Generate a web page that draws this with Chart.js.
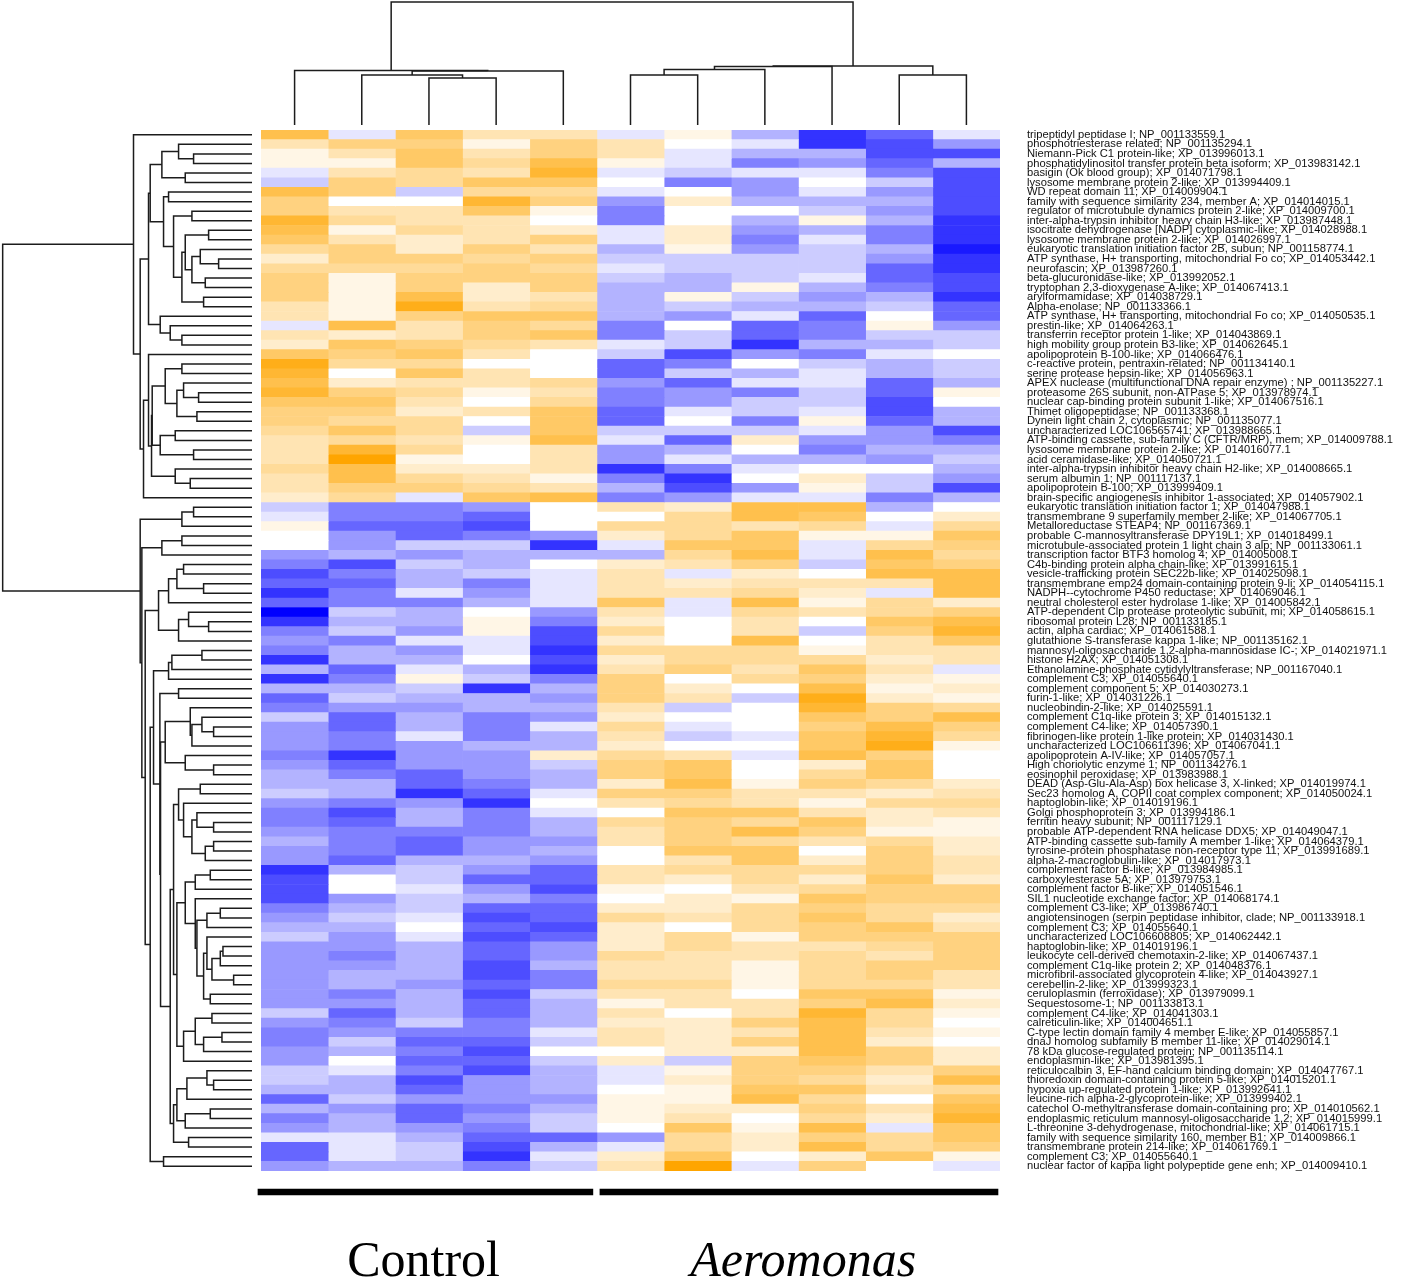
<!DOCTYPE html>
<html>
<head>
<meta charset="utf-8">
<title>Control vs Aeromonas heatmap</title>
<script src="https://cdn.jsdelivr.net/npm/chart.js@4"></script>
<style>
  html, body { margin: 0; padding: 0; background: #fff; }
  #page { position: relative; width: 1418px; height: 1279px; overflow: hidden; }
  canvas { position: absolute; }
  #heatmap { left: 0; top: 0; }
  #rowDendrogram { left: 0; top: 130px; }
  #colDendrogram { left: 261px; top: 0; }
  #groups { left: 251px; top: 1186px; }
</style>
</head>
<body>
<div id="page">
  <canvas id="heatmap" width="1418" height="1279"></canvas>
  <canvas id="rowDendrogram" width="252" height="1041"></canvas>
  <canvas id="colDendrogram" width="739" height="125"></canvas>
  <canvas id="groups" width="759" height="93"></canvas>
</div>
<script>
// ----------------------------------------------------------------------DATA
const geneLabels = [
  "tripeptidyl peptidase I; NP_001133559.1",
  "phosphotriesterase related; NP_001135294.1",
  "Niemann-Pick C1 protein-like; XP_013996013.1",
  "phosphatidylinositol transfer protein beta isoform; XP_013983142.1",
  "basigin (Ok blood group); XP_014071798.1",
  "lysosome membrane protein 2-like; XP_013994409.1",
  "WD repeat domain 11; XP_014009904.1",
  "family with sequence similarity 234, member A; XP_014014015.1",
  "regulator of microtubule dynamics protein 2-like; XP_014009700.1",
  "inter-alpha-trypsin inhibitor heavy chain H3-like; XP_013987448.1",
  "isocitrate dehydrogenase [NADP] cytoplasmic-like; XP_014028988.1",
  "lysosome membrane protein 2-like; XP_014026997.1",
  "eukaryotic translation initiation factor 2B, subun; NP_001158774.1",
  "ATP synthase, H+ transporting, mitochondrial Fo co; XP_014053442.1",
  "neurofascin; XP_013987260.1",
  "beta-glucuronidase-like; XP_013992052.1",
  "tryptophan 2,3-dioxygenase A-like; XP_014067413.1",
  "arylformamidase; XP_014038729.1",
  "Alpha-enolase; NP_001133366.1",
  "ATP synthase, H+ transporting, mitochondrial Fo co; XP_014050535.1",
  "prestin-like; XP_014064263.1",
  "transferrin receptor protein 1-like; XP_014043869.1",
  "high mobility group protein B3-like; XP_014062645.1",
  "apolipoprotein B-100-like; XP_014066476.1",
  "c-reactive protein, pentraxin-related; NP_001134140.1",
  "serine protease hepsin-like; XP_014056963.1",
  "APEX nuclease (multifunctional DNA repair enzyme) ; NP_001135227.1",
  "proteasome 26S subunit, non-ATPase 5; XP_013978974.1",
  "nuclear cap-binding protein subunit 1-like; XP_014067516.1",
  "Thimet oligopeptidase; NP_001133368.1",
  "Dynein light chain 2, cytoplasmic; NP_001135077.1",
  "uncharacterized LOC106565741; XP_013988665.1",
  "ATP-binding cassette, sub-family C (CFTR/MRP), mem; XP_014009788.1",
  "lysosome membrane protein 2-like; XP_014016077.1",
  "acid ceramidase-like; XP_014050721.1",
  "inter-alpha-trypsin inhibitor heavy chain H2-like; XP_014008665.1",
  "serum albumin 1; NP_001117137.1",
  "apolipoprotein B-100; XP_013999409.1",
  "brain-specific angiogenesis inhibitor 1-associated; XP_014057902.1",
  "eukaryotic translation initiation factor 1; XP_014047988.1",
  "transmembrane 9 superfamily member 2-like; XP_014067705.1",
  "Metalloreductase STEAP4; NP_001167369.1",
  "probable C-mannosyltransferase DPY19L1; XP_014018499.1",
  "microtubule-associated protein 1 light chain 3 alp; NP_001133061.1",
  "transcription factor BTF3 homolog 4; XP_014005008.1",
  "C4b-binding protein alpha chain-like; XP_013991615.1",
  "vesicle-trafficking protein SEC22b-like; XP_014025098.1",
  "transmembrane emp24 domain-containing protein 9-li; XP_014054115.1",
  "NADPH--cytochrome P450 reductase; XP_014069046.1",
  "neutral cholesterol ester hydrolase 1-like; XP_014005842.1",
  "ATP-dependent Clp protease proteolytic subunit, mi; XP_014058615.1",
  "ribosomal protein L28; NP_001133185.1",
  "actin, alpha cardiac; XP_014061588.1",
  "glutathione S-transferase kappa 1-like; NP_001135162.1",
  "mannosyl-oligosaccharide 1,2-alpha-mannosidase IC-; XP_014021971.1",
  "histone H2AX; XP_014051308.1",
  "Ethanolamine-phosphate cytidylyltransferase; NP_001167040.1",
  "complement C3; XP_014055640.1",
  "complement component 5; XP_014030273.1",
  "furin-1-like; XP_014031226.1",
  "nucleobindin-2-like; XP_014025591.1",
  "complement C1q-like protein 3; XP_014015132.1",
  "complement C4-like; XP_014057390.1",
  "fibrinogen-like protein 1-like protein; XP_014031430.1",
  "uncharacterized LOC106611396; XP_014067041.1",
  "apolipoprotein A-IV-like; XP_014057057.1",
  "High choriolytic enzyme 1; NP_001134276.1",
  "eosinophil peroxidase; XP_013983988.1",
  "DEAD (Asp-Glu-Ala-Asp) box helicase 3, X-linked; XP_014019974.1",
  "Sec23 homolog A, COPII coat complex component; XP_014050024.1",
  "haptoglobin-like; XP_014019196.1",
  "Golgi phosphoprotein 3; XP_013994186.1",
  "ferritin heavy subunit; NP_001117129.1",
  "probable ATP-dependent RNA helicase DDX5; XP_014049047.1",
  "ATP-binding cassette sub-family A member 1-like; XP_014064379.1",
  "tyrosine-protein phosphatase non-receptor type 11; XP_013991689.1",
  "alpha-2-macroglobulin-like; XP_014017973.1",
  "complement factor B-like; XP_013984985.1",
  "carboxylesterase 5A; XP_013979753.1",
  "complement factor B-like; XP_014051546.1",
  "SIL1 nucleotide exchange factor; XP_014068174.1",
  "complement C3-like; XP_013986740.1",
  "angiotensinogen (serpin peptidase inhibitor, clade; NP_001133918.1",
  "complement C3; XP_014055640.1",
  "uncharacterized LOC106608805; XP_014062442.1",
  "haptoglobin-like; XP_014019196.1",
  "leukocyte cell-derived chemotaxin-2-like; XP_014067437.1",
  "complement C1q-like protein 2; XP_014048376.1",
  "microfibril-associated glycoprotein 4-like; XP_014043927.1",
  "cerebellin-2-like; XP_013999323.1",
  "ceruloplasmin (ferroxidase); XP_013979099.1",
  "Sequestosome-1; NP_001133813.1",
  "complement C4-like; XP_014041303.1",
  "calreticulin-like; XP_014004651.1",
  "C-type lectin domain family 4 member E-like; XP_014055857.1",
  "dnaJ homolog subfamily B member 11-like; XP_014029014.1",
  "78 kDa glucose-regulated protein; NP_001135114.1",
  "endoplasmin-like; XP_013981395.1",
  "reticulocalbin 3, EF-hand calcium binding domain; XP_014047767.1",
  "thioredoxin domain-containing protein 5-like; XP_014015201.1",
  "hypoxia up-regulated protein 1-like; XP_013992641.1",
  "leucine-rich alpha-2-glycoprotein-like; XP_013999402.1",
  "catechol O-methyltransferase domain-containing pro; XP_014010562.1",
  "endoplasmic reticulum mannosyl-oligosaccharide 1,2; XP_014015999.1",
  "L-threonine 3-dehydrogenase, mitochondrial-like; XP_014061715.1",
  "family with sequence similarity 160, member B1; XP_014009866.1",
  "transmembrane protein 214-like; XP_014061769.1",
  "complement C3; XP_014055640.1",
  "nuclear factor of kappa light polypeptide gene enh; XP_014009410.1",
];

// one row per gene, five Control then six Aeromonas samples (-10 blue .. 10 orange)
const cellValues = [
  [7,-1,6,3,3,-1,1,-3,-8,-6,-1],
  [3,5,5,1,5,3,0,-1,-8,-7,-4],
  [1,3,6,3,5,3,-1,-3,-3,-7,-7],
  [1,1,6,4,7,1,-1,-5,-4,-6,-3],
  [-1,3,4,3,8,-1,-2,-1,-1,-5,-7],
  [-2,5,4,6,6,0,-5,-4,0,-2,-7],
  [7,5,-2,4,4,-1,0,-4,-1,-4,-7],
  [5,0,0,8,5,-4,2,-3,-3,-3,-7],
  [5,3,3,6,1,-5,0,0,-2,-4,-7],
  [8,4,3,3,0,-5,0,-3,1,-3,-8],
  [7,1,4,3,2,-1,2,-4,-3,-5,-8],
  [6,3,2,3,5,-1,2,-5,-1,-5,-8],
  [4,5,2,5,3,-3,1,-4,-2,-3,-9],
  [2,5,5,4,5,-2,-2,-2,-2,-4,-8],
  [4,4,4,5,4,-1,-2,-2,-2,-6,-8],
  [5,1,5,5,5,-2,-3,-2,-1,-6,-7],
  [5,1,5,2,5,-3,-3,1,-3,-5,-7],
  [5,1,7,2,3,-3,1,-2,-4,-3,-8],
  [3,1,9,3,4,-3,-2,-3,-3,-2,-6],
  [3,1,5,6,6,-3,-4,-1,-6,0,-6],
  [-1,7,3,5,4,-5,0,-6,-5,1,-4],
  [3,2,3,5,6,-5,-2,-6,-5,-2,-2],
  [2,6,5,4,3,-1,-2,-8,-3,-3,-2],
  [6,5,6,3,0,-2,-7,-4,-5,-1,0],
  [9,4,4,0,0,-6,-5,0,-2,-3,-2],
  [8,0,6,3,0,-6,-2,-3,-1,-3,-2],
  [7,2,3,3,4,-4,-6,-1,-1,-6,-3],
  [8,5,4,1,3,-5,-4,-5,-2,-6,1],
  [6,6,3,0,4,-5,-4,-2,-2,-7,0],
  [5,5,2,3,6,-6,-1,-2,-1,-7,-3],
  [5,4,4,0,6,-6,0,-5,1,-6,-3],
  [4,6,4,-2,6,-2,-2,-2,-1,-4,-7],
  [3,4,3,1,7,-1,-6,2,-4,-4,-5],
  [3,8,4,0,3,-4,-3,0,-5,-3,-3],
  [3,10,1,0,3,-4,-1,-3,-3,-4,-2],
  [4,7,2,2,3,-8,-5,-1,0,0,-3],
  [3,7,4,3,1,-5,-8,0,2,-2,-4],
  [3,5,5,4,3,-3,-7,-4,1,-2,-7],
  [2,4,-1,6,7,-5,-4,-1,-1,-5,-3],
  [-2,-5,-5,-4,0,3,2,7,7,-3,0],
  [-1,-5,-5,-6,0,0,4,7,6,0,2],
  [1,-6,-6,-7,0,4,4,3,4,-1,4],
  [0,-4,-6,-5,-4,2,4,6,1,1,6],
  [0,-4,-2,-2,-8,-1,6,6,-1,4,5],
  [-4,-3,-4,-3,-3,-3,4,7,-1,7,4],
  [-5,-7,-2,-3,0,2,3,5,-2,6,5],
  [-7,-5,-3,-2,-1,3,-1,2,0,7,7],
  [-6,-6,-3,-5,-1,3,2,3,3,3,7],
  [-8,-5,-1,-4,-1,3,3,4,2,-1,7],
  [-6,-5,-5,-3,-1,6,-1,7,1,4,2],
  [-10,-2,-3,0,-4,3,-1,4,3,4,5],
  [-8,-3,-3,1,-5,2,0,3,0,6,7],
  [-5,-2,-4,1,-7,4,0,3,-2,5,8],
  [-4,-5,-1,-1,-7,2,0,7,0,3,6],
  [-5,-3,-4,-1,-8,4,4,4,1,3,3],
  [-8,-3,-3,0,-7,2,4,4,4,2,3],
  [-3,-6,-1,-3,-8,3,5,3,6,3,-1],
  [-8,-5,1,-2,-5,5,0,4,5,2,1],
  [-3,-3,-2,-8,-3,5,2,0,7,1,2],
  [-6,-2,-3,-3,-4,5,3,-2,9,2,1],
  [-5,-4,-4,-3,-3,3,-2,0,8,5,4],
  [-2,-6,-3,-5,-4,2,0,0,6,5,7],
  [-4,-6,-3,-5,-1,4,-1,0,5,7,5],
  [-4,-5,-1,-5,-3,3,-2,-1,6,8,4],
  [-4,-5,-4,-3,-3,2,0,0,6,9,1],
  [-5,-8,-4,-4,2,4,3,-1,7,5,0],
  [-4,-6,-4,-4,-2,5,6,0,2,6,0],
  [-3,-5,-6,-4,-3,5,6,0,4,6,0],
  [-3,-3,-6,-5,-3,2,7,1,5,4,2],
  [-2,-3,-8,-6,-1,5,5,3,3,2,3],
  [-4,-5,-4,-8,0,3,4,3,1,4,4],
  [-5,-7,-3,-5,-1,0,6,6,3,2,3],
  [-5,-6,-3,-5,-3,4,5,4,6,2,1],
  [-4,-5,-5,-5,-3,3,5,7,5,1,1],
  [-3,-5,-6,-4,-4,3,5,4,3,4,2],
  [-4,-5,-6,-4,-3,0,6,6,0,5,2],
  [-4,-6,-3,-3,-4,0,3,6,2,5,3],
  [-8,-3,-2,-4,-6,3,4,4,4,5,3],
  [-7,0,-2,-6,-6,3,2,4,2,6,2],
  [-7,0,-1,-4,-7,1,0,3,4,5,5],
  [-7,-4,-2,-3,-5,0,2,1,6,5,5],
  [-5,-3,-2,-6,-6,2,2,4,5,4,4],
  [-4,-2,-1,-7,-6,4,3,4,6,4,2],
  [-3,-3,0,-6,-7,2,0,4,5,6,3],
  [-2,-4,-1,-7,-6,2,4,1,5,5,5],
  [-4,-4,-3,-6,-4,2,4,3,3,4,5],
  [-4,-5,-3,-6,-4,4,3,3,4,3,5],
  [-4,-4,-3,-7,-3,3,3,1,4,5,5],
  [-4,-3,-3,-7,-5,3,3,1,4,5,3],
  [-4,-3,-4,-6,-5,4,4,1,4,4,3],
  [-4,-5,-3,-7,-2,3,3,0,6,6,1],
  [-4,-4,-3,-6,-3,1,3,3,5,7,2],
  [-2,-6,-3,-6,-3,3,0,3,8,4,1],
  [-4,-5,-2,-5,-3,2,2,5,7,4,0],
  [-5,-4,-5,-5,-1,3,2,3,7,3,1],
  [-5,-2,-6,-6,-2,3,2,5,7,2,0],
  [-4,-3,-5,-7,0,0,2,2,7,5,2],
  [-4,0,-6,-6,-2,2,-2,5,6,5,2],
  [-2,-1,-5,-7,-3,-1,1,5,5,3,5],
  [-2,-3,-7,-4,-3,-1,2,5,4,2,7],
  [-3,-3,-6,-4,-3,0,1,6,6,3,4],
  [-6,-2,-4,-4,-4,1,1,7,4,0,6],
  [-3,-4,-6,-5,-3,1,2,2,5,3,7],
  [-5,-3,-6,-4,-2,1,3,0,4,2,8],
  [-4,-3,-4,-5,-2,0,6,1,7,-1,6],
  [-1,-1,-3,-6,-6,-4,4,2,5,4,6],
  [-6,-1,-2,-7,-3,-1,4,2,7,4,5],
  [-6,-1,-2,-8,-1,2,6,0,2,6,1],
  [-4,-3,-3,-5,-2,3,10,-1,5,0,-1],
];

// dendrogram nodes: [merge height, first child, second child], 0 is a leaf
const rowBranchA = [310,
  [305,
    [270, [220, 0, [175, 0, 0]], [200, 0, 0]],
    [265, [250, 0, 0],
      [235, [180, 0, 0],
        [210,
          [200, [130, 0, 0], [180, [155, 0, [100, 0, 0]], [140, 0, 0]]],
          [145, 0, 0]]]]],
  [275, 0, [245, 0, [210, 0, 0]]]];
const rowBranchB = [310, 0,
  [301,
    [299,
      [260, [210, 0, 0], [225, [205, 0, [160, 0, 0]], [165, 0, 0]]],
      [275, [230, 0, 0], [175, 0, 0]]],
    [230, 0, [185, 0, 0]]]];
const rowBranchC = [280,
  [250, [225, [205, 0, 0], [145, 0, 0]], 0],
  [220, [190, 0, [130, 0, 0]], 0]];
const rowBranchD = [260,
  [185, 0, [180, [150, 0, [115, 0, 0]], 0]],
  [200, 0, [115, 0, 0]]];
const rowBranchE = [220, [155, 0, 0],
  [205, 0, [180, [165, 0, [115, 0, 0]], [140, [115, 0, 0], 0]]]];
const rowBranchF = [200,
  [170, [125, 0, 0], 0],
  [170, 0,
    [165,
      [135, [95, 0, 0], 0],
      [145, [135, 0, [120, [95, [87, 0, 0], 0], [55, 0, 0]]], [125, 0, 0]]]]];
const rowBranchG = [205, [170, [120, 0, 0], [145, [90, 0, 0], 0]], 0];
const rowBranchH = [235,
  [225, [195, [135, 0, [115, 0, 0]], 0], [200, [125, 0, 0], 0]],
  [190, 0, 0]];
const rowTree = [747,
  [355, 0, [335, rowBranchA, [325, rowBranchB, 0]]],
  [335,
    [210, [175, 0, 0], 0],
    [330,
      [270, [210, 0, 0], 0],
      [320, rowBranchC,
        [305,
          [295,
            [250, [240, [150, 0, 0], 0], 0],
            [276, [220, 0, 0],
              [274, rowBranchD,
                [245,
                  [235, rowBranchE, [225, rowBranchF, rowBranchG]],
                  rowBranchH]]]],
          [265, 0, 0]]]]]];

const colTree = [123,
  [54.5, 0, [54, [50, 0, [47, 0, 0]], 0]],
  [59, [58.5, [55.5, [50, 0, 0], 0], 0], [50, 0, 0]]];

const groupNames = ["Control", "Aeromonas"];
const groupCentres = [2.42, 8.07];
const groupSpans = [[-0.045, 4.94], [5.045, 10.97]];

const sampleCount = 11;

// -----------------------------------------------------------------------FUNCTIONS
function cellColor(v) {
  const k = Math.abs(v) / 10;
  if (v < 0) {
    const c = Math.round(255 * (1 - k));
    return `rgb(${c}, ${c}, 255)`;
  }
  return `rgb(255, ${Math.round(255 - 90 * k)}, ${Math.round(255 * (1 - k))})`;
}

// walks a tree, one link for each merge, leaves get 0.5, 1.5, 2.5 ...
function collectLinks(tree) {
  const links = [];
  let leaf = 0;
  const walk = (node) => {
    if (node === 0) {
      leaf++;
      return { h: 0, pos: leaf - 0.5 };
    }
    const a = walk(node[1]);
    const b = walk(node[2]);
    links.push([
      [a.h, a.pos],
      [node[0], a.pos],
      [node[0], b.pos],
      [b.h, b.pos],
    ]);
    return { h: node[0], pos: (a.pos + b.pos) / 2 };
  };
  walk(tree);
  return links;
}

function dendrogramDatasets(tree, horizontal) {
  return collectLinks(tree).map((link) => ({
    data: link.map(([h, pos]) => (horizontal ? { x: pos, y: h } : { x: h, y: pos })),
    showLine: true,
    borderColor: "#1c1c1c",
    borderWidth: 1.5,
    pointRadius: 0,
    clip: false,
  }));
}

const baseOptions = {
  responsive: false,
  animation: false,
  devicePixelRatio: 1,
  plugins: { legend: { display: false }, tooltip: { enabled: false } },
};

// -----------------------------------------------------------------------CHARTS
new Chart(document.querySelector("#heatmap"), {
  type: "bar",
  data: {
    labels: geneLabels,
    datasets: Array.from({ length: sampleCount }, (_, col) => ({
      data: cellValues.map(() => 1),
      backgroundColor: cellValues.map((row) => cellColor(row[col])),
      borderWidth: 0,
      barPercentage: 1,
      categoryPercentage: 1,
    })),
  },
  options: {
    ...baseOptions,
    indexAxis: "y",
    layout: { padding: { left: 261, top: 130, bottom: 108 } },
    scales: {
      x: { stacked: true, min: 0, max: sampleCount, display: false },
      y: {
        stacked: true,
        position: "right",
        grid: { display: false, drawTicks: false },
        border: { display: false },
        afterFit: (scale) => {
          scale.width = 418;
        },
        ticks: {
          autoSkip: false,
          padding: 27,
          color: "#111",
          font: { family: "'Liberation Sans', Arial, sans-serif", size: 11.2 },
        },
      },
    },
  },
});

new Chart(document.querySelector("#rowDendrogram"), {
  type: "scatter",
  data: { datasets: dendrogramDatasets(rowTree, false) },
  options: {
    ...baseOptions,
    scales: {
      x: { min: 0, max: 755, reverse: true, display: false },
      y: { min: 0, max: geneLabels.length, reverse: true, display: false },
    },
  },
});

new Chart(document.querySelector("#colDendrogram"), {
  type: "scatter",
  data: { datasets: dendrogramDatasets(colTree, true) },
  options: {
    ...baseOptions,
    scales: {
      x: { min: 0, max: sampleCount, display: false },
      y: { min: 0, max: 125, display: false },
    },
  },
});

new Chart(document.querySelector("#groups"), {
  type: "bar",
  data: {
    labels: ["samples"],
    datasets: groupSpans.map((span) => ({
      data: [span],
      backgroundColor: "#000",
      barThickness: 6,
      grouped: false,
      clip: false,
    })),
  },
  options: {
    ...baseOptions,
    indexAxis: "y",
    layout: { padding: { left: 10, right: 10 } },
    scales: {
      y: { display: false },
      x: {
        min: 0,
        max: sampleCount,
        grid: { display: false, drawTicks: false },
        border: { display: false },
        afterBuildTicks: (scale) => {
          scale.ticks = groupCentres.map((value) => ({ value }));
        },
        afterFit: (scale) => {
          scale.height = 81;
        },
        ticks: {
          autoSkip: false,
          maxRotation: 0,
          padding: 35,
          color: "#000",
          callback: (value, index) => groupNames[index],
          font: (ctx) => ({
            family: "'Liberation Serif', 'Times New Roman', serif",
            size: 50,
            style: ctx.index === 1 ? "italic" : "normal",
          }),
        },
      },
    },
  },
});
</script>
</body>
</html>
